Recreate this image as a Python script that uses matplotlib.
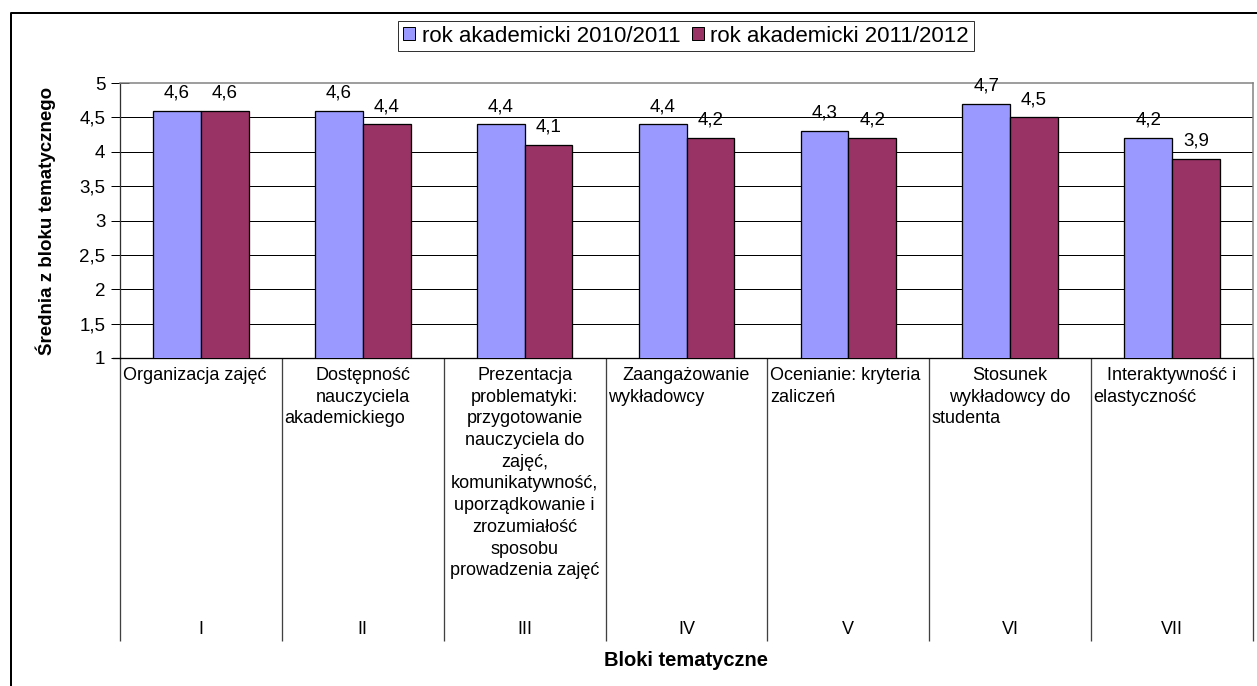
import matplotlib
matplotlib.use("Agg")
import matplotlib.pyplot as plt
from matplotlib.patches import Patch
from matplotlib.lines import Line2D
import numpy as np

plt.rcParams['font.family'] = ['Liberation Sans', 'DejaVu Sans']

# ---- data ----
roman = ["I", "II", "III", "IV", "V", "VI", "VII"]
category_lines = [
    ["Organizacja zajęć"],
    ["Dostępność", "nauczyciela", "akademickiego"],
    ["Prezentacja", "problematyki:", "przygotowanie", "nauczyciela do", "zajęć,",
     "komunikatywność,", "uporządkowanie i", "zrozumiałość", "sposobu",
     "prowadzenia zajęć"],
    ["Zaangażowanie", "wykładowcy"],
    ["Ocenianie: kryteria", "zaliczeń"],
    ["Stosunek", "wykładowcy do", "studenta"],
    ["Interaktywność i", "elastyczność"],
]
series_names = ["rok akademicki 2010/2011", "rok akademicki 2011/2012"]
values_2010 = [4.6, 4.6, 4.4, 4.4, 4.3, 4.7, 4.2]
values_2011 = [4.6, 4.4, 4.1, 4.2, 4.2, 4.5, 3.9]
y_ticks = [1, 1.5, 2, 2.5, 3, 3.5, 4, 4.5, 5]

# ---- style / layout ----
line_align = [
    ["l"],
    ["c", "c", "l"],
    ["c"] * 10,
    ["c", "l"],
    ["l", "l"],
    ["c", "c", "l"],
    ["c", "l"],
]
colors = ["#9999FF", "#993366"]
W, H = 1257, 686
px = 0.72  # 1 pixel in points at dpi 100

fig = plt.figure(figsize=(W / 100, H / 100), dpi=100)
ax_l, ax_r, ax_t, ax_b = 120, 1253, 83, 358
ax = fig.add_axes([ax_l / W, 1 - ax_b / H, (ax_r - ax_l) / W, (ax_b - ax_t) / H])
ax_h = ax_b - ax_t

n = len(roman)
x = np.arange(n)
bw = 0.295
ax.bar(x - bw / 2, values_2010, bw, color=colors[0], edgecolor="black",
       linewidth=1.3 * px, zorder=3, label=series_names[0])
ax.bar(x + bw / 2, values_2011, bw, color=colors[1], edgecolor="black",
       linewidth=1.3 * px, zorder=3, label=series_names[1])

for xs, vals in ((x - bw / 2, values_2010), (x + bw / 2, values_2011)):
    for xi, v in zip(xs, vals):
        ax.annotate(f"{v:.1f}".replace(".", ","), (xi, v), xytext=(0, 9.5),
                    textcoords="offset points", ha="center", va="baseline",
                    fontsize=13.5, zorder=4)

ax.set_xlim(-0.5, n - 0.5)
ax.set_ylim(1, 5)
ax.set_yticks(y_ticks)
ax.set_yticklabels([f"{t:g}".replace(".", ",") for t in y_ticks], fontsize=13.5)
ax.tick_params(axis="y", direction="inout", length=13, width=1 * px, pad=4,
               colors="black")
ax.set_xticks([])
for yv in y_ticks[1:-1]:
    ax.axhline(yv, color="black", linewidth=1 * px, zorder=1)

for s in ("top", "right"):
    ax.spines[s].set_color("#808080")
    ax.spines[s].set_linewidth(1.5 * px)
ax.spines["left"].set_color("#303030")
ax.spines["bottom"].set_color("black")
ax.spines["left"].set_linewidth(1.3 * px)
ax.spines["bottom"].set_linewidth(1.3 * px)

# category separators and labels
trans = ax.get_xaxis_transform()
sep_bottom = -(641 - ax_b) / ax_h
ax.vlines(np.arange(n + 1) - 0.5, sep_bottom, 0, transform=trans,
          colors="#404040", linewidth=1.3 * px, clip_on=False)
ax.plot([-0.5 - 7 / 1133 * n, -0.5], [0, 0], transform=trans, color="black",
        linewidth=1.3 * px, clip_on=False)

line_h = 21.7 / ax_h
top0 = -(367 - ax_b) / ax_h
cat_w = (ax_r - ax_l) / n
for i, (lines, aligns) in enumerate(zip(category_lines, line_align)):
    for j, (txt, al) in enumerate(zip(lines, aligns)):
        if al == "l":
            xx, ha = i - 0.5 + 2.5 / cat_w, "left"
        else:
            xx, ha = i, "center"
        ax.text(xx, top0 - j * line_h, txt, transform=trans, ha=ha, va="top",
                fontsize=13)
    ax.text(i, -(630 - ax_b) / ax_h, roman[i], transform=trans, ha="center",
            va="center", fontsize=13)

# axis titles
fig.text(686 / W, 1 - 660 / H, "Bloki tematyczne", ha="center", va="center",
         fontsize=14.5, fontweight="bold")
fig.text(46 / W, 1 - 221 / H, "Średnia z bloku tematycznego", ha="center",
         va="center", rotation=90, fontsize=13.5, fontweight="bold")

# legend
handles = [Patch(facecolor=c, edgecolor="black", linewidth=1 * px) for c in colors]
leg = fig.legend(handles, series_names, loc="center", ncol=2,
                 bbox_to_anchor=(686 / W, 1 - 36 / H), fontsize=16,
                 frameon=True, fancybox=False, edgecolor="black",
                 handlelength=0.55, handleheight=0.55, handletextpad=0.3,
                 columnspacing=0.5, borderpad=0.2, borderaxespad=0)
leg.get_frame().set_linewidth(1 * px)

# outer chart frame (top and left visible)
fig.add_artist(Line2D([10.5 / W, 10.5 / W, 1.0], [0.0, 1 - 13 / H, 1 - 13 / H],
                      transform=fig.transFigure, color="black", linewidth=2 * px))

fig.savefig("out.png", dpi=100)
